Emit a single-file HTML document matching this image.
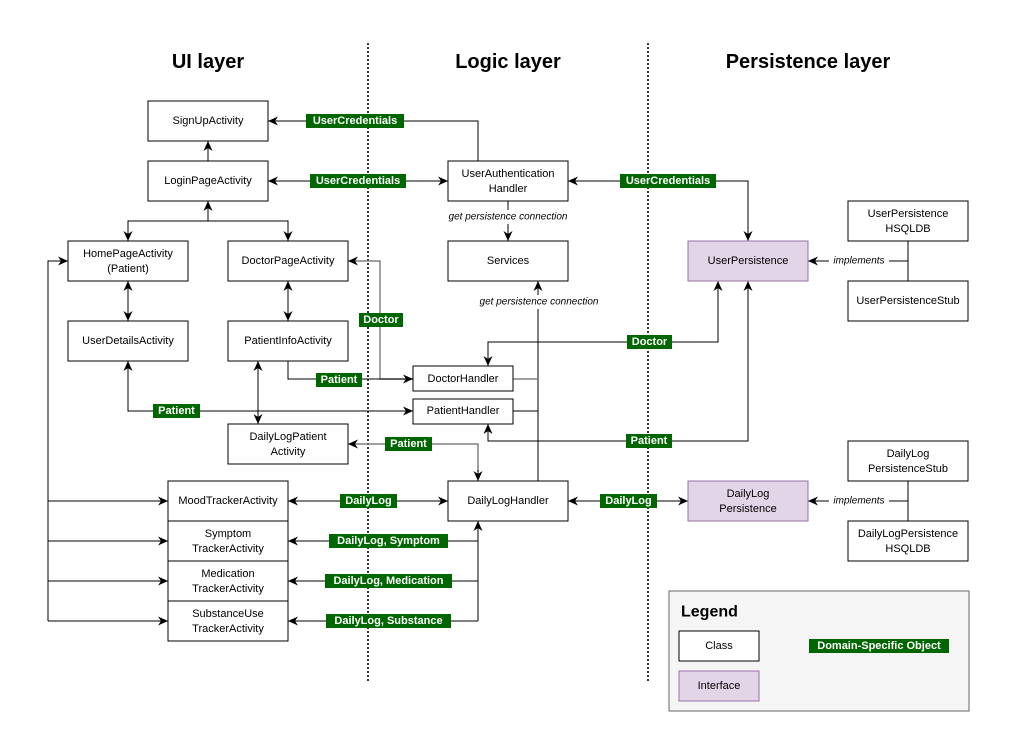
<!DOCTYPE html>
<html><head><meta charset="utf-8"><style>
html,body{margin:0;padding:0;background:#fff}
svg{display:block}
text{font-family:"Liberation Sans",Arial,sans-serif}
.b{fill:#fff;stroke:#000;stroke-width:1}
.p{fill:#e1d5e7;stroke:#9673a6;stroke-width:1}
.t{font-size:11px;fill:#000;text-anchor:middle;dominant-baseline:central}
.l{fill:none;stroke:#000;stroke-width:1}
.g{fill:none;stroke:#808080;stroke-width:1.5}
.gl{fill:#006600}
.gt{font-size:11px;font-weight:bold;fill:#fff;text-anchor:middle;dominant-baseline:central}
.it{font-size:10px;font-style:italic;fill:#000;text-anchor:middle;dominant-baseline:central}
.h{font-size:20px;font-weight:bold;fill:#000;text-anchor:middle;dominant-baseline:central}
</style></head><body>
<svg width="1010" height="752" viewBox="0 0 1010 752" xmlns="http://www.w3.org/2000/svg">
<defs>
<marker id="a" viewBox="0 0 10 10" refX="10" refY="5" markerWidth="10" markerHeight="10" orient="auto-start-reverse" markerUnits="userSpaceOnUse">
<path d="M0,0.5 L10,5 L0,9.5 L3,5 Z" fill="#000"/></marker>
</defs>
<rect width="1010" height="752" fill="#fff"/>
<line x1="368" y1="43" x2="368" y2="682" stroke="#333" stroke-width="2" stroke-dasharray="2,2"/>
<line x1="648" y1="43" x2="648" y2="682" stroke="#333" stroke-width="2" stroke-dasharray="2,2"/>
<text class="h" x="208" y="62">UI layer</text>
<text class="h" x="508" y="62">Logic layer</text>
<text class="h" x="808" y="62">Persistence layer</text>

<path class="l" d="M478,161 V121 H268" marker-end="url(#a)"/>
<path class="l" d="M208,161 V141" marker-end="url(#a)"/>
<path class="l" d="M268,181 H448" marker-start="url(#a)" marker-end="url(#a)"/>
<path class="l" d="M568,181 H748 V241" marker-start="url(#a)" marker-end="url(#a)"/>
<path class="l" d="M508,201 V241" marker-end="url(#a)"/>
<path class="l" d="M208,201 V221" marker-start="url(#a)"/>
<path class="l" d="M208,221 H128 V241" marker-end="url(#a)"/>
<path class="l" d="M208,221 H288 V241" marker-end="url(#a)"/>
<path class="l" d="M128,281 V321" marker-start="url(#a)" marker-end="url(#a)"/>
<path class="l" d="M288,281 V321" marker-start="url(#a)" marker-end="url(#a)"/>
<path class="g" d="M413,379 H380 V261 H352"/>
<path class="l" d="M354,261 H348" marker-end="url(#a)"/>
<path class="l" d="M288,361 V379 H413" marker-end="url(#a)"/>
<path class="l" d="M128,361 V411 H413" marker-start="url(#a)" marker-end="url(#a)"/>
<path class="l" d="M258,361 V424" marker-start="url(#a)" marker-end="url(#a)"/>
<path class="g" d="M478,472 V444 H352"/>
<path class="l" d="M478,470 V481" marker-end="url(#a)"/>
<path class="l" d="M354,444 H348" marker-end="url(#a)"/>
<path class="l" d="M538,481 V281" marker-end="url(#a)"/>
<path class="g" d="M513,379 H538"/>
<path class="l" d="M513,411 H538"/>
<path class="l" d="M718,281 V342 H488 V366" marker-start="url(#a)" marker-end="url(#a)"/>
<path class="l" d="M748,281 V441 H488 V424" marker-start="url(#a)" marker-end="url(#a)"/>
<path class="l" d="M288,501 H448" marker-start="url(#a)" marker-end="url(#a)"/>
<path class="l" d="M568,501 H688" marker-start="url(#a)" marker-end="url(#a)"/>
<path class="l" d="M478,521 V621" marker-start="url(#a)"/>
<path class="l" d="M478,541 H288" marker-end="url(#a)"/>
<path class="l" d="M478,581 H288" marker-end="url(#a)"/>
<path class="l" d="M478,621 H288" marker-end="url(#a)"/>
<path class="l" d="M48,621 V261 H68" marker-end="url(#a)"/>
<path class="l" d="M48,501 H168" marker-end="url(#a)"/>
<path class="l" d="M48,541 H168" marker-end="url(#a)"/>
<path class="l" d="M48,581 H168" marker-end="url(#a)"/>
<path class="l" d="M48,621 H168" marker-end="url(#a)"/>
<path class="l" d="M908,241 V281 M908,261 H808" marker-end="url(#a)"/>
<path class="l" d="M908,481 V521 M908,501 H808" marker-end="url(#a)"/>

<rect class="b" x="148" y="101" width="120" height="40"/><text class="t" x="208" y="121">SignUpActivity</text>
<rect class="b" x="148" y="161" width="120" height="40"/><text class="t" x="208" y="181">LoginPageActivity</text>
<rect class="b" x="68" y="241" width="120" height="40"/><text class="t" x="128" y="254">HomePageActivity</text><text class="t" x="128" y="269">(Patient)</text>
<rect class="b" x="228" y="241" width="120" height="40"/><text class="t" x="288" y="261">DoctorPageActivity</text>
<rect class="b" x="68" y="321" width="120" height="40"/><text class="t" x="128" y="341">UserDetailsActivity</text>
<rect class="b" x="228" y="321" width="120" height="40"/><text class="t" x="288" y="341">PatientInfoActivity</text>
<rect class="b" x="228" y="424" width="120" height="40"/><text class="t" x="288" y="437">DailyLogPatient</text><text class="t" x="288" y="452">Activity</text>
<rect class="b" x="168" y="481" width="120" height="40"/><text class="t" x="228" y="501">MoodTrackerActivity</text>
<rect class="b" x="168" y="521" width="120" height="40"/><text class="t" x="228" y="534">Symptom</text><text class="t" x="228" y="549">TrackerActivity</text>
<rect class="b" x="168" y="561" width="120" height="40"/><text class="t" x="228" y="574">Medication</text><text class="t" x="228" y="589">TrackerActivity</text>
<rect class="b" x="168" y="601" width="120" height="40"/><text class="t" x="228" y="614">SubstanceUse</text><text class="t" x="228" y="629">TrackerActivity</text>
<rect class="b" x="448" y="161" width="120" height="40"/><text class="t" x="508" y="174">UserAuthentication</text><text class="t" x="508" y="189">Handler</text>
<rect class="b" x="448" y="241" width="120" height="40"/><text class="t" x="508" y="261">Services</text>
<rect class="b" x="413" y="366" width="100" height="25"/><text class="t" x="463" y="379">DoctorHandler</text>
<rect class="b" x="413" y="399" width="100" height="25"/><text class="t" x="463" y="411">PatientHandler</text>
<rect class="b" x="448" y="481" width="120" height="40"/><text class="t" x="508" y="501">DailyLogHandler</text>
<rect class="p" x="688" y="241" width="120" height="40"/><text class="t" x="748" y="261">UserPersistence</text>
<rect class="p" x="688" y="481" width="120" height="40"/><text class="t" x="748" y="494">DailyLog</text><text class="t" x="748" y="509">Persistence</text>
<rect class="b" x="848" y="201" width="120" height="40"/><text class="t" x="908" y="214">UserPersistence</text><text class="t" x="908" y="229">HSQLDB</text>
<rect class="b" x="848" y="281" width="120" height="40"/><text class="t" x="908" y="301">UserPersistenceStub</text>
<rect class="b" x="848" y="441" width="120" height="40"/><text class="t" x="908" y="454">DailyLog</text><text class="t" x="908" y="469">PersistenceStub</text>
<rect class="b" x="848" y="521" width="120" height="40"/><text class="t" x="908" y="534">DailyLogPersistence</text><text class="t" x="908" y="549">HSQLDB</text>

<rect x="441" y="210" width="134" height="14" fill="#fff"/><text class="it" x="508" y="217">get persistence connection</text>
<rect x="472" y="295" width="134" height="14" fill="#fff"/><text class="it" x="539" y="302">get persistence connection</text>
<rect x="829" y="254" width="60" height="14" fill="#fff"/><text class="it" x="859" y="261">implements</text>
<rect x="829" y="494" width="60" height="14" fill="#fff"/><text class="it" x="859" y="501">implements</text>

<rect class="gl" x="306" y="114" width="98" height="14"/><text class="gt" x="355" y="121">UserCredentials</text>
<rect class="gl" x="310" y="174" width="96" height="14"/><text class="gt" x="358" y="181">UserCredentials</text>
<rect class="gl" x="620" y="174" width="96" height="14"/><text class="gt" x="668" y="181">UserCredentials</text>
<rect class="gl" x="359" y="313" width="44" height="14"/><text class="gt" x="381" y="320">Doctor</text>
<rect class="gl" x="316" y="373" width="46" height="14"/><text class="gt" x="339" y="380">Patient</text>
<rect class="gl" x="153" y="404" width="47" height="14"/><text class="gt" x="176.5" y="411">Patient</text>
<rect class="gl" x="385" y="437" width="47" height="14"/><text class="gt" x="408.5" y="444">Patient</text>
<rect class="gl" x="627" y="335" width="45" height="14"/><text class="gt" x="649.5" y="342">Doctor</text>
<rect class="gl" x="626" y="434" width="46" height="14"/><text class="gt" x="649" y="441">Patient</text>
<rect class="gl" x="340" y="494" width="57" height="14"/><text class="gt" x="368.5" y="501">DailyLog</text>
<rect class="gl" x="600" y="494" width="57" height="14"/><text class="gt" x="628.5" y="501">DailyLog</text>
<rect class="gl" x="329" y="534" width="119" height="14"/><text class="gt" x="388.5" y="541">DailyLog, Symptom</text>
<rect class="gl" x="325" y="574" width="127" height="14"/><text class="gt" x="388.5" y="581">DailyLog, Medication</text>
<rect class="gl" x="326" y="614" width="125" height="14"/><text class="gt" x="388.5" y="621">DailyLog, Substance</text>

<rect x="669" y="591" width="300" height="120" fill="#f5f5f5" stroke="#666"/>
<text x="681" y="612" font-size="16" font-weight="bold" dominant-baseline="central">Legend</text>
<rect class="b" x="679" y="631" width="80" height="30"/><text class="t" x="719" y="646">Class</text>
<rect class="p" x="679" y="671" width="80" height="30"/><text class="t" x="719" y="686">Interface</text>
<rect class="gl" x="809" y="639" width="140" height="14"/><text class="gt" x="879" y="646">Domain-Specific Object</text>
</svg>
</body></html>
